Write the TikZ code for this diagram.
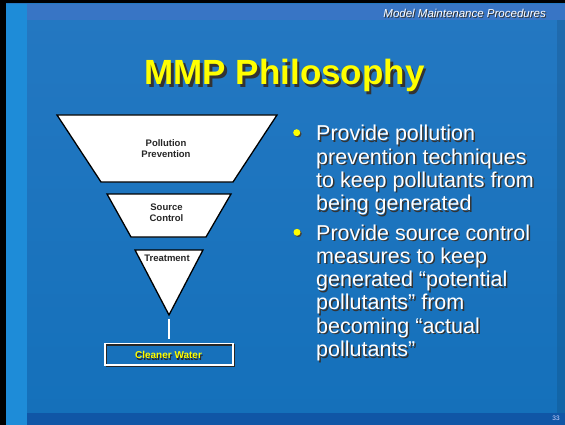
\documentclass[tikz,border=0pt]{standalone}
\usepackage{fontspec}
\setmainfont{Liberation Sans}
\definecolor{bgtop}{RGB}{36,120,194}
\definecolor{bgmid}{RGB}{52,148,214}
\definecolor{bgbot}{RGB}{20,112,186}
\definecolor{bandtop}{RGB}{70,115,200}
\definecolor{strip}{RGB}{30,140,216}
\definecolor{bandbot}{RGB}{16,86,166}
\definecolor{mmpyellow}{RGB}{255,255,0}
\begin{document}
\begin{tikzpicture}[x=1pt,y=-1pt,
  funnel/.style={draw=black,fill=white,line width=1.3pt,line join=miter},
  flabel/.style={font=\fontsize{9.5}{11.3}\selectfont\bfseries,align=center,inner sep=0pt,text=black!85},
  bullettext/.style={font=\fontsize{21.5}{23.3}\selectfont,align=left,inner sep=0pt,anchor=north west},
  shadowtext/.style={text=black!80},
  dot/.style={circle,fill=mmpyellow,inner sep=0pt,minimum size=7pt},
  dotshadow/.style={circle,fill=black!75,inner sep=0pt,minimum size=7pt}]
\useasboundingbox (0,0) rectangle (565,425);
% background
\fill[black] (0,0) rectangle (565,425);
\shade[top color=bgtop,middle color=bgmid,bottom color=bgbot] (6,4) rectangle (565,425);
\fill[bandtop,opacity=0.6] (27,4) rectangle (565,20);
\fill[strip] (6,4) rectangle (27,425);
\fill[bandbot] (27,413) rectangle (565,425);
\fill[black,opacity=0.1] (557,20) rectangle (565,413);
% header
\node[anchor=base east,inner sep=0pt,font=\fontsize{11.5}{13}\selectfont\itshape,text=black!80] (hdrs) at (547,19) {Model Maintenance Procedures};
\node[anchor=base east,inner sep=0pt,font=\fontsize{11.5}{13}\selectfont\itshape,text=white] (hdr) at (546,18) {Model Maintenance Procedures};
% title
\node[anchor=base,inner sep=0pt,font=\fontsize{35}{40}\selectfont\bfseries,text=black!80] (titles) at (287,87.5) {MMP Philosophy};
\node[anchor=base,inner sep=0pt,font=\fontsize{35}{40}\selectfont\bfseries,text=mmpyellow] (title) at (284.5,84.5) {MMP Philosophy};
% funnel
\draw[funnel] (57,115) -- (277,115) -- (233,182) -- (101,182) -- cycle;
\draw[funnel] (107,194) -- (231,194) -- (206,237) -- (131,237) -- cycle;
\draw[funnel] (135,250) -- (203,250) -- (169,315) -- cycle;
\node[flabel] (pp) at (166,148.5) {Pollution\\Prevention};
\node[flabel] (sc) at (166.5,212.5) {Source\\Control};
\node[flabel] (tr) at (167,258.5) {Treatment};
\coordinate (lt) at (169,319);
\coordinate (lb) at (169,338.5);
\draw[white,line width=1.6pt] (lt) -- (lb);
\draw[black!85,line width=1.8pt] (106.5,345) rectangle (234.5,366.5);
\draw[white,line width=1.8pt] (105,343.5) rectangle (233,365);
\node[inner sep=0pt,font=\fontsize{10}{12}\selectfont\bfseries,text=black!85] (cws) at (169.5,356.5) {Cleaner Water};
\node[inner sep=0pt,font=\fontsize{10}{12}\selectfont\bfseries,text=mmpyellow] (cw) at (168.5,354.5) {Cleaner Water};
% bullets
\node[dotshadow] (d1s) at (298,134) {};
\node[dot] (d1) at (296.7,132.7) {};
\node[dotshadow] (d2s) at (298.3,233.6) {};
\node[dot] (d2) at (297,232.3) {};
\node[bullettext,shadowtext] (b1s) at (317.5,126.5) {Provide pollution\\prevention techniques\\to keep pollutants from\\being generated};
\node[bullettext,text=white] (b1) at (316,125) {Provide pollution\\prevention techniques\\to keep pollutants from\\being generated};
\node[bullettext,shadowtext] (b2s) at (317.5,225.8) {Provide source control\\measures to keep\\generated “potential\\pollutants” from\\becoming “actual\\pollutants”};
\node[bullettext,text=white] (b2) at (316,224.3) {Provide source control\\measures to keep\\generated “potential\\pollutants” from\\becoming “actual\\pollutants”};
% page number
\node[inner sep=0pt,font=\fontsize{6.5}{7}\selectfont,text=white!85!blue] (pg) at (556,418.5) {33};
\end{tikzpicture}
\end{document}
